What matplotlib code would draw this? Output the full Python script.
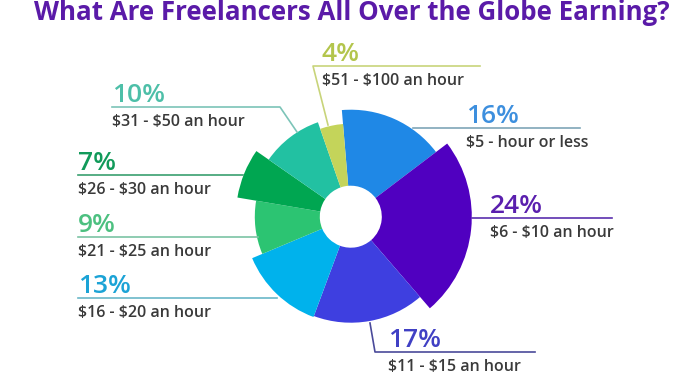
import numpy as np
import matplotlib.pyplot as plt

# datos del gráfico
categorias = ["$5 - hour or less", "$6 - $10 an hour", "$11 - $15 an hour", "$16 - $20 an hour",
              "$21 - $25 an hour", "$26 - $30 an hour", "$31 - $50 an hour", "$51 - $100 an hour"]
porcentajes = [16, 24, 17, 13, 9, 7, 10, 4]
radios = [107, 121, 106, 107, 96, 115, 100, 93]   # largo visual de cada sector
colores = ["#1f88e6", "#5000c0", "#3e3fe0", "#00b2ec", "#2cc472", "#00a651", "#22c1a2", "#c4d45a"]
colores_texto = ["#3d8fde", "#5a1fae", "#4040c4", "#1ba3d6", "#4cc080", "#119a5a", "#4dbfa8", "#b3c54c"]
colores_linea = ["#7fa6b8", "#5a2fae", "#4a4a9a", "#6ab8c8", "#7cc4a4", "#3aa070", "#7cc4b8", "#c8d47a"]

HUECO = 31
plt.rcParams['font.family'] = ['Open Sans', 'DejaVu Sans']

fig = plt.figure(figsize=(7, 3.75), dpi=100)

# sectores de radio variable en ejes polares (1 unidad = 1 pixel)
ax = fig.add_axes([220.8 / 700, 28.3 / 375, 260 / 700, 260 / 375], projection='polar')
ax.set_theta_zero_location('N', offset=4.8)
ax.set_theta_direction(-1)
anchos = np.array(porcentajes) / 100 * 2 * np.pi
inicios = np.concatenate([[0], np.cumsum(anchos)[:-1]])
ax.bar(inicios, np.array(radios) - HUECO, width=anchos, bottom=HUECO, align='edge',
       color=colores, linewidth=0)
ax.set_ylim(0, 130)
ax.axis('off')

# capa para textos y líneas guía en pixeles
capa = fig.add_axes([0, 0, 1, 1])
capa.set_xlim(0, 700)
capa.set_ylim(375, 0)
capa.axis('off')

capa.text(352, 20, "What Are Freelancers All Over the Globe Earning?", ha='center', va='baseline',
          fontsize=18.6, fontweight='bold', color='#5a1aa8')

# posición de cada etiqueta: x del texto, y de la línea, puntos de la línea guía
etiquetas = [
    (466, 128, [(413, 128), (580, 128)]),
    (490, 218, [(472, 218), (612, 218)]),
    (388, 352, [(370, 323), (375, 352), (535, 352)]),
    (78, 298, [(277, 298), (78, 298)]),
    (78, 237, [(258, 237), (78, 237)]),
    (78, 175, [(243, 175), (78, 175)]),
    (112, 107, [(297, 132), (280, 107), (112, 107)]),
    (322, 66, [(328, 125), (313, 66), (480, 66)]),
]

for i, (x, y, puntos) in enumerate(etiquetas):
    xs, ys = zip(*puntos)
    capa.plot(xs, ys, color=colores_linea[i], lw=1.2)
    capa.text(x, y - 5, f"{porcentajes[i]}%", ha='left', va='baseline',
              fontsize=19, fontweight='semibold', color=colores_texto[i])
    capa.text(x, y + 15, categorias[i], ha='left', va='center', parse_math=False,
              fontsize=11.5, fontweight='semibold', color='#3a3a3a')

fig.savefig("out.png", dpi=100)
